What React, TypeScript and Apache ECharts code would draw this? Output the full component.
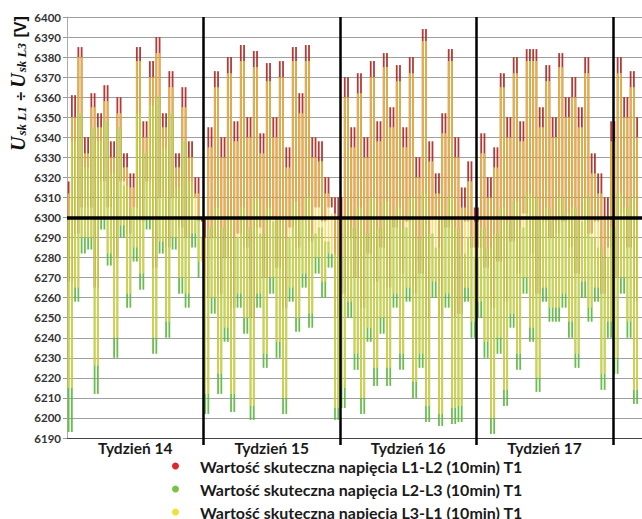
import React, { useEffect, useRef } from "react";
import * as echarts from "echarts";

// Week labels (centres of each week on the day axis)
const weekLabels = ["Tydzień 14", "Tydzień 15", "Tydzień 16", "Tydzień 17"];
const weekCentres = [3.5, 10.5, 17.5, 24.5];
const weekBounds = [7, 14, 21, 28];

const seriesNames = [
  "Wartość skuteczna napięcia L1-L2 (10min) T1",
  "Wartość skuteczna napięcia L2-L3 (10min) T1",
  "Wartość skuteczna napięcia L3-L1 (10min) T1",
];

// samples every 4 hours (6 per day), alternating local max / local min
const l1l2 = [
  6318, 6268, 6361, 6292, 6385, 6305,
  6340, 6305, 6362, 6265, 6352, 6318,
  6366, 6305, 6338, 6280, 6360, 6318,
  6332, 6292, 6322, 6305, 6385, 6298,
  6348, 6318, 6378, 6275, 6390, 6310,
  6352, 6285, 6373, 6310, 6332, 6295,
  6365, 6290, 6338, 6310, 6320, 6298,
  6300, 6260, 6345, 6290, 6373, 6262,
  6340, 6280, 6380, 6255, 6348, 6292,
  6386, 6285, 6350, 6250, 6383, 6295,
  6342, 6270, 6377, 6300, 6350, 6275,
  6378, 6255, 6335, 6295, 6385, 6285,
  6362, 6300, 6386, 6288, 6340, 6305,
  6338, 6298, 6320, 6305, 6310, 6250,
  6310, 6262, 6370, 6290, 6345, 6270,
  6372, 6255, 6340, 6282, 6378, 6268,
  6348, 6285, 6382, 6265, 6355, 6295,
  6376, 6272, 6345, 6298, 6380, 6262,
  6330, 6272, 6394, 6250, 6338, 6300,
  6322, 6250, 6352, 6295, 6384, 6250,
  6340, 6252, 6315, 6298, 6328, 6285,
  6305, 6285, 6342, 6275, 6320, 6255,
  6335, 6278, 6372, 6258, 6350, 6288,
  6380, 6272, 6348, 6302, 6384, 6282,
  6384, 6262, 6355, 6298, 6376, 6290,
  6350, 6292, 6382, 6298, 6360, 6285,
  6370, 6272, 6355, 6300, 6380, 6292,
  6332, 6298, 6322, 6262, 6310, 6285,
  6348, 6270, 6380, 6302, 6360, 6285,
  6373, 6258, 6350,
];

const l2l3 = [
  6300, 6193, 6338, 6258, 6352, 6282,
  6325, 6284, 6345, 6212, 6338, 6294,
  6348, 6276, 6322, 6230, 6345, 6290,
  6316, 6255, 6305, 6278, 6352, 6264,
  6332, 6294, 6356, 6232, 6360, 6282,
  6335, 6240, 6352, 6284, 6315, 6262,
  6338, 6255, 6318, 6285, 6300, 6270,
  6270, 6202, 6295, 6252, 6305, 6212,
  6295, 6238, 6300, 6203, 6290, 6255,
  6305, 6242, 6295, 6199, 6310, 6255,
  6292, 6225, 6305, 6262, 6298, 6230,
  6300, 6202, 6290, 6258, 6308, 6243,
  6300, 6265, 6310, 6245, 6292, 6272,
  6295, 6260, 6288, 6275, 6282, 6199,
  6280, 6205, 6300, 6250, 6295, 6224,
  6305, 6202, 6292, 6238, 6310, 6216,
  6295, 6242, 6308, 6216, 6300, 6255,
  6305, 6224, 6295, 6258, 6310, 6210,
  6290, 6225, 6312, 6198, 6292, 6260,
  6285, 6196, 6300, 6255, 6310, 6197,
  6295, 6198, 6282, 6258, 6290, 6240,
  6280, 6250, 6295, 6230, 6285, 6192,
  6292, 6232, 6305, 6206, 6298, 6245,
  6308, 6224, 6295, 6262, 6312, 6238,
  6310, 6213, 6300, 6258, 6305, 6248,
  6298, 6248, 6310, 6255, 6302, 6240,
  6305, 6225, 6298, 6260, 6310, 6248,
  6290, 6258, 6285, 6214, 6280, 6240,
  6295, 6222, 6312, 6262, 6305, 6240,
  6310, 6207, 6300,
];

const l3l1 = [
  6312, 6215, 6350, 6265, 6380, 6290,
  6332, 6290, 6355, 6226, 6345, 6300,
  6358, 6282, 6330, 6240, 6352, 6296,
  6325, 6262, 6315, 6285, 6378, 6272,
  6340, 6300, 6370, 6240, 6382, 6288,
  6345, 6248, 6365, 6290, 6325, 6270,
  6355, 6262, 6330, 6292, 6312, 6278,
  6290, 6212, 6335, 6260, 6365, 6222,
  6330, 6245, 6372, 6212, 6338, 6262,
  6378, 6250, 6340, 6206, 6375, 6262,
  6332, 6232, 6368, 6270, 6340, 6238,
  6370, 6210, 6325, 6265, 6378, 6250,
  6352, 6272, 6378, 6252, 6330, 6280,
  6328, 6268, 6312, 6282, 6302, 6205,
  6300, 6215, 6360, 6258, 6335, 6232,
  6362, 6210, 6330, 6245, 6370, 6225,
  6338, 6250, 6375, 6225, 6345, 6262,
  6368, 6232, 6335, 6265, 6372, 6218,
  6320, 6232, 6388, 6206, 6328, 6268,
  6312, 6202, 6342, 6262, 6378, 6205,
  6330, 6206, 6305, 6265, 6318, 6248,
  6298, 6258, 6332, 6238, 6310, 6200,
  6325, 6240, 6365, 6214, 6340, 6252,
  6372, 6232, 6338, 6270, 6378, 6245,
  6378, 6220, 6345, 6265, 6368, 6255,
  6340, 6255, 6375, 6262, 6350, 6248,
  6360, 6232, 6345, 6268, 6372, 6255,
  6322, 6265, 6312, 6222, 6300, 6248,
  6338, 6230, 6372, 6270, 6350, 6248,
  6365, 6214, 6340,
];

const lineColors = ["#b0302a", "#62bb44", "#f0d648"];
const lineOpacity = [0.95, 0.95, 0.76];
const legendColors = ["#e3242b", "#7cc242", "#f0e03c"];

export default function App() {
  const ref = useRef<HTMLDivElement>(null);
  useEffect(() => {
    if (!ref.current) return;
    const chart = echarts.init(ref.current, null, { renderer: "svg" });
    // each stroke joins two consecutive samples, drawn as a vertical segment
    const toData = (arr: number[]) =>
      arr.slice(0, -1).map((v, k) => [k / 6 + 1 / 12, v, arr[k + 1]]);
    const all = [l1l2, l2l3, l3l1];
    const series: any[] = all.map((arr, i) => ({
      name: seriesNames[i],
      type: "custom",
      data: toData(arr),
      silent: true,
      z: 2 + i,
      encode: { x: 0, y: [1, 2] },
      itemStyle: { color: legendColors[i] },
      renderItem: (params: any, api: any) => {
        const x = api.value(0);
        const p1 = api.coord([x, api.value(1)]);
        const p2 = api.coord([x, api.value(2)]);
        return {
          type: "line",
          shape: { x1: p1[0], y1: p1[1], x2: p2[0], y2: p2[1] },
          style: { stroke: lineColors[i], lineWidth: 1.8, opacity: lineOpacity[i] },
        };
      },
    }));
    // reference lines: 6300 V level and week boundaries
    series.push({
      name: "refs",
      type: "line",
      data: [],
      silent: true,
      z: 10,
      markLine: {
        silent: true,
        symbol: ["none", "none"],
        label: { show: false },
        data: [
          { yAxis: 6300, lineStyle: { color: "#000", width: 3.5, type: "solid" } },
          ...weekBounds.map((w) => ({
            xAxis: w,
            lineStyle: { color: "#000", width: 2.5, type: "solid" },
          })),
        ],
      },
    });
    chart.setOption({
      animation: false,
      grid: { left: 67, right: 0, top: 17, bottom: 81, containLabel: false },
      xAxis: {
        type: "value",
        min: 0,
        max: 29.5,
        axisLine: { show: true, lineStyle: { color: "#444", width: 1 } },
        axisTick: {
          show: true,
          customValues: weekBounds,
          length: 7,
          lineStyle: { color: "#000", width: 2.5 },
        },
        axisLabel: {
          customValues: weekCentres,
          formatter: (v: number) => {
            const idx = weekCentres.findIndex((c) => Math.abs(c - v) < 0.01);
            return idx >= 0 ? weekLabels[idx] : "";
          },
          fontFamily: "Lato",
          fontWeight: "bold",
          fontSize: 15.5,
          color: "#1a1a1a",
          margin: 2,
        },
        splitLine: { show: false },
      },
      yAxis: {
        type: "value",
        min: 6190,
        max: 6400,
        interval: 10,
        axisLine: { show: true, lineStyle: { color: "#aaa" } },
        axisTick: { show: true, length: 4, lineStyle: { color: "#999" } },
        axisLabel: {
          formatter: (v: number) => String(v),
          fontFamily: "Lato",
          fontWeight: "bold",
          fontSize: 11.5,
          color: "#333",
          margin: 6,
        },
        splitLine: { show: true, lineStyle: { color: "#a0a0a0", width: 1 } },
      },
      legend: {
        orient: "vertical",
        left: 172,
        top: 458,
        height: 90,
        padding: 0,
        itemGap: 7,
        itemWidth: 7,
        itemHeight: 7,
        icon: "circle",
        selectedMode: false,
        textStyle: {
          fontFamily: "Lato",
          fontWeight: "bold",
          fontSize: 16,
          color: "#1a1a1a",
          lineHeight: 16,
          padding: [0, 0, 0, 16],
        },
        data: seriesNames.map((n, i) => ({
          name: n,
          itemStyle: { color: legendColors[i] },
        })),
      },
      graphic: [
        {
          type: "text",
          x: 16,
          y: 151,
          rotation: Math.PI / 2,
          z: 20,
          style: {
            text: "{u|U}{s|sk L1}{o| ÷ }{u|U}{s|sk L3}{o| [V]}",
            textAlign: "left",
            textVerticalAlign: "middle",
            fill: "#111",
            rich: {
              u: {
                fontFamily: "Liberation Serif",
                fontStyle: "italic",
                fontWeight: "bold",
                fontSize: 20,
                lineHeight: 24,
                verticalAlign: "bottom",
              },
              s: {
                fontFamily: "Liberation Serif",
                fontStyle: "italic",
                fontWeight: "bold",
                fontSize: 13,
                lineHeight: 14,
                verticalAlign: "bottom",
                padding: [0, 1, 0, 1],
              },
              o: {
                fontFamily: "Liberation Sans",
                fontWeight: "bold",
                fontSize: 16,
                lineHeight: 24,
                verticalAlign: "bottom",
              },
            },
          },
        },
      ],
      series,
    });
    return () => chart.dispose();
  }, []);
  return (
    <div
      ref={ref}
      style={{ position: "fixed", left: 0, top: 0, width: 642, height: 519, background: "#fff" }}
    />
  );
}
